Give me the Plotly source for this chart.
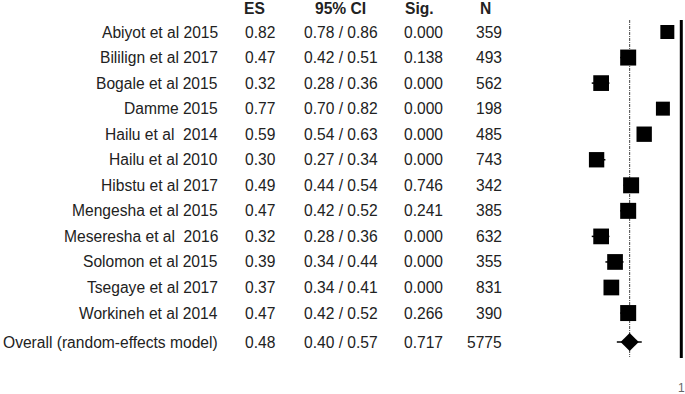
import plotly.graph_objects as go

# ---- data ----
studies = ["Abiyot et al 2015", "Bililign et al 2017", "Bogale et al 2015", "Damme 2015",
           "Hailu et al  2014", "Hailu et al 2010", "Hibstu et al 2017", "Mengesha et al 2015",
           "Meseresha et al  2016", "Solomon et al 2015", "Tsegaye et al 2017", "Workineh et al 2014"]
es = [0.82, 0.47, 0.32, 0.77, 0.59, 0.30, 0.49, 0.47, 0.32, 0.39, 0.37, 0.47]
ci_lo = [0.78, 0.42, 0.28, 0.70, 0.54, 0.27, 0.44, 0.42, 0.28, 0.34, 0.34, 0.42]
ci_hi = [0.86, 0.51, 0.36, 0.82, 0.63, 0.34, 0.54, 0.52, 0.36, 0.44, 0.41, 0.52]
sig = [0.000, 0.138, 0.000, 0.000, 0.000, 0.000, 0.746, 0.241, 0.000, 0.000, 0.000, 0.266]
n = [359, 493, 562, 198, 485, 743, 342, 385, 632, 355, 831, 390]
weight = [6.8, 8.9, 8.6, 6.8, 8.2, 8.2, 8.9, 8.9, 8.6, 8.6, 8.6, 8.9]

overall_label = "Overall (random-effects model)"
overall_es = 0.48
overall_lo = 0.40
overall_hi = 0.57
overall_sig = 0.717
overall_n = 5775

headers = ["ES", "95% CI", "Sig.", "N"]
null_value = 1

# ---- layout constants ----
W, H = 685, 394
MB = 15
ROW_PX = 25.55
FIRST_PX = 32
ytop = -FIRST_PX / ROW_PX
ybot = ytop + (H - MB) / ROW_PX
ys = list(range(len(studies)))
y_over = (342 - FIRST_PX) / ROW_PX
y_head = (8 - FIRST_PX) / ROW_PX
y_line0 = (20 - FIRST_PX) / ROW_PX
y_line1 = (358 - FIRST_PX) / ROW_PX

PX_DEC = 162.0
X1_PX = 681.3
xa = 0 - X1_PX / PX_DEC
xb = xa + W / PX_DEC

fig = go.Figure()

max_w = max(weight)
sizes = [16 * (w / max_w) ** 0.5 for w in weight]

fig.add_trace(go.Scatter(
    x=es, y=ys, mode="markers",
    marker=dict(symbol="square", size=sizes, color="black", opacity=1, line=dict(width=0)),
    error_x=dict(type="data", symmetric=False,
                 array=[h - e for h, e in zip(ci_hi, es)],
                 arrayminus=[e - l for e, l in zip(es, ci_lo)],
                 color="black", thickness=1.5, width=0),
    showlegend=False, hoverinfo="skip"))

fig.add_trace(go.Scatter(
    x=[overall_es], y=[y_over], mode="markers",
    marker=dict(symbol="diamond", size=14, color="black", opacity=1, line=dict(width=0)),
    error_x=dict(type="data", symmetric=False,
                 array=[overall_hi - overall_es], arrayminus=[overall_es - overall_lo],
                 color="black", thickness=1.5, width=0),
    showlegend=False, hoverinfo="skip"))

fig.add_shape(type="line", xref="x", yref="y", x0=overall_es, x1=overall_es,
              y0=y_line0, y1=y_line1 - 0.04,
              line=dict(color="#444", width=1, dash="3px,1px,1px,1px"), layer="below")
fig.add_shape(type="line", xref="x", yref="y", x0=null_value, x1=null_value,
              y0=y_line0, y1=y_line1, line=dict(color="black", width=3))

FONT = "Liberation Sans, Arial, sans-serif"
FS = 15.6
TC = "#222"

def ann(text, xpx, y, anchor):
    fig.add_annotation(x=xpx / W, y=y, xref="paper", yref="y", text=text,
                       showarrow=False, xanchor=anchor, yanchor="middle",
                       borderpad=0, borderwidth=0,
                       font=dict(family=FONT, size=FS, color=TC))

# headers
ann("<b>%s</b>" % headers[0], 244, y_head, "left")
ann("<b>%s</b>" % headers[1], 315, y_head, "left")
ann("<b>%s</b>" % headers[2], 405, y_head, "left")
ann("<b>%s</b>" % headers[3], 480, y_head, "left")

rows = list(zip(studies, es, ci_lo, ci_hi, sig, n, ys))
rows.append((overall_label, overall_es, overall_lo, overall_hi, overall_sig, overall_n, y_over))
for lab, e, lo, hi, s, nn, y in rows:
    ann(lab.replace("  ", "\u00a0 "), 218, y, "right")
    ann(f"{e:.2f}", 245, y, "left")
    ann(f"{lo:.2f} / {hi:.2f}", 304, y, "left")
    ann(f"{s:.3f}", 404, y, "left")
    ann(f"{nn}", 502, y, "right")

fig.update_layout(
    width=W, height=H, margin=dict(l=0, r=0, t=0, b=MB),
    paper_bgcolor="white", plot_bgcolor="white",
    xaxis=dict(type="log", range=[xa, xb], showgrid=False, zeroline=False, showline=False,
               ticks="", tickvals=[null_value], ticktext=[str(null_value)],
               tickfont=dict(family=FONT, size=12, color="#666")),
    yaxis=dict(range=[ybot, ytop], visible=False),
)

fig.write_html("out.html", config={"displayModeBar": False},
               post_script="document.body.style.margin='0px';document.body.style.overflow='hidden';")
